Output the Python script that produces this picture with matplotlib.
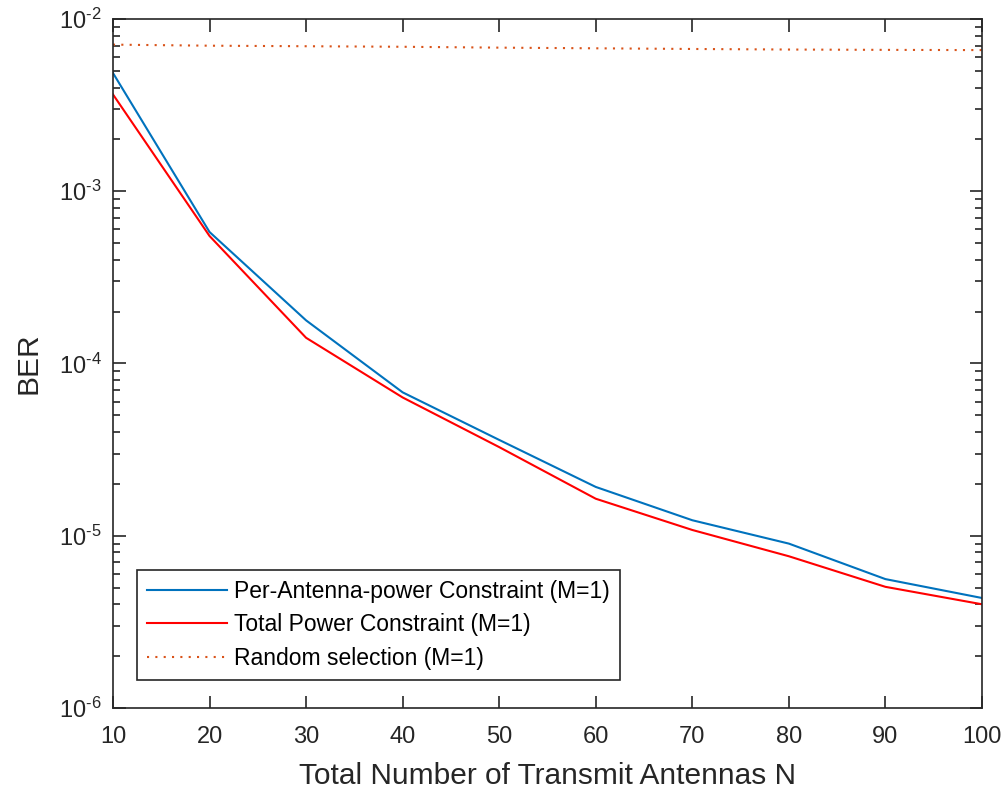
import numpy as np
import matplotlib
matplotlib.use("Agg")
import matplotlib.pyplot as plt
from matplotlib.ticker import LogLocator, NullFormatter, FuncFormatter

plt.rcParams['font.family'] = ['Liberation Sans', 'DejaVu Sans']
plt.rcParams['mathtext.fontset'] = 'custom'
plt.rcParams['mathtext.rm'] = 'Liberation Sans'
plt.rcParams['mathtext.it'] = 'Liberation Sans:italic'

# data
n_antennas = [10, 20, 30, 40, 50, 60, 70, 80, 90, 100]
ber_per_antenna = [4.86e-3, 5.8e-4, 1.78e-4, 6.8e-5, 3.6e-5, 1.92e-5, 1.23e-5, 9.0e-6, 5.6e-6, 4.35e-6]
ber_total_power = [3.65e-3, 5.5e-4, 1.41e-4, 6.35e-5, 3.27e-5, 1.64e-5, 1.08e-5, 7.6e-6, 5.05e-6, 4.0e-6]
ber_random = [7.1e-3, 7.0e-3, 6.95e-3, 6.9e-3, 6.82e-3, 6.76e-3, 6.7e-3, 6.65e-3, 6.62e-3, 6.6e-3]

label_per = 'Per-Antenna-power Constraint (M=1)'
label_tot = 'Total Power Constraint (M=1)'
label_rnd = 'Random selection (M=1)'

axis_col = '#262626'


def pow10_label(v, pos):
    # MATLAB style: 10 with a hyphen exponent
    e = int(round(np.log10(v)))
    sign = r'\text{-}' if e < 0 else ''
    return r'$10^{%s%d}$' % (sign, abs(e))


fig = plt.figure(figsize=(10.05, 7.89), dpi=100)
ax = fig.add_axes([0.1124, 0.1027, 0.9771 - 0.1124, 0.9759 - 0.1027])

ax.semilogy(n_antennas, ber_per_antenna, color='#0072BD', lw=1.5, label=label_per)
ax.semilogy(n_antennas, ber_total_power, color='#FF0000', lw=1.5, label=label_tot)
ax.semilogy(n_antennas, ber_random, color='#D95319', lw=1.5, ls=(0, (1, 3)), label=label_rnd)

ax.set_xlim(10, 100)
ax.set_ylim(1e-6, 1e-2)
ax.set_xticks(np.arange(10, 101, 10))
ax.yaxis.set_major_locator(LogLocator(base=10, numticks=10))
ax.yaxis.set_major_formatter(FuncFormatter(pow10_label))
ax.yaxis.set_minor_locator(LogLocator(base=10, subs=np.arange(2, 10), numticks=20))
ax.yaxis.set_minor_formatter(NullFormatter())

ax.tick_params(which='both', direction='in', top=True, right=True,
               colors=axis_col, labelsize=17, width=1.2)
ax.tick_params(which='major', length=9)
ax.tick_params(axis='x', which='major', pad=13)
ax.tick_params(axis='y', which='major', pad=8)
ax.tick_params(which='minor', length=5)
for sp in ax.spines.values():
    sp.set_color(axis_col)
    sp.set_linewidth(1.2)

ax.set_xlabel('Total Number of Transmit Antennas N', fontsize=21.5, color=axis_col, labelpad=10)
ax.set_ylabel('BER', fontsize=21.5, color=axis_col, labelpad=12)

leg = ax.legend(loc='lower left', bbox_to_anchor=(0.0276, 0.0406), borderaxespad=0,
                fontsize=16.5, fancybox=False, framealpha=1, edgecolor=axis_col,
                handlelength=3.5, handletextpad=0.3, labelspacing=0.45,
                borderpad=0.45)
leg.get_frame().set_linewidth(1.2)
for t in leg.get_texts():
    t.set_color('black')

fig.savefig('out.png', dpi=100, facecolor='white')
